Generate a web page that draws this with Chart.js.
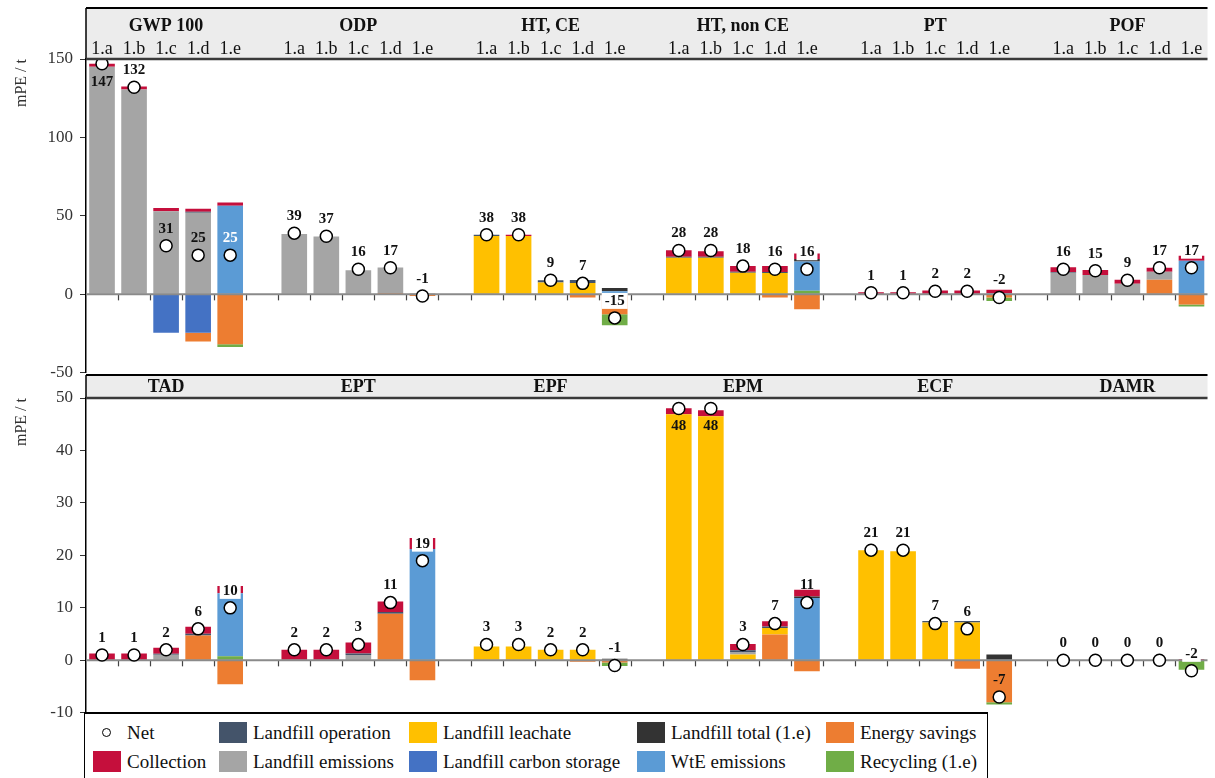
<!DOCTYPE html>
<html>
<head>
<meta charset="utf-8">
<script src="https://cdn.jsdelivr.net/npm/chart.js@4.4.1/dist/chart.umd.min.js"></script>
<style>
  body { margin: 0; background: #fff; }
  #wrap { position: relative; width: 1215px; height: 778px; overflow: hidden;
          font-family: "Liberation Serif", "Times New Roman", serif; }
  canvas { position: absolute; left: 0; }
  #cTop { top: 0; }
  #cBot { top: 360px; }
  #legendBox { position: absolute; left: 84px; top: 712px; width: 902px; height: 80px;
               border-top: 2px solid #000; border-left: 1.5px solid #000; border-right: 1.5px solid #000;
               background: #fff; }
  .li { position: absolute; display: flex; align-items: center; height: 21px;
        font-size: 19px; color: #111; white-space: nowrap; }
  .sw { display: inline-block; width: 28px; height: 21px; margin-right: 6px; }
  .dot { display: inline-block; width: 28px; height: 21px; margin-right: 6px; position: relative; }
  .dot:after { content: ""; position: absolute; left: 9px; top: 6px; width: 7px; height: 7px;
               border: 1.3px solid #000; border-radius: 50%; background: #fff; }
</style>
</head>
<body>
<div id="wrap">
  <canvas id="cTop" width="1215" height="390"></canvas>
  <canvas id="cBot" width="1215" height="370"></canvas>
  <div id="legendBox"></div>
</div>
<script>
// groups of 5 scenarios each
const scenarios = ["1.a", "1.b", "1.c", "1.d", "1.e"];
const topGroups = ["GWP 100", "ODP", "HT, CE", "HT, non CE", "PT", "POF"];
const botGroups = ["TAD", "EPT", "EPF", "EPM", "ECF", "DAMR"];

// top panel (mPE / t), 5 values per group
const topCarbonStorage = [0, 0, -24.5, -24.5, 0,  0, 0, 0, 0, 0,  0, 0, 0, 0, 0,  0, 0, 0, 0, 0,  0, 0, 0, 0, 0,  0, 0, 0, 0, 0];
const topEnergySavings = [0, 0, 0, -5.5, -31.8,  0, 0, 0, 0.8, -1.1,  0, 0, 0, -2, -12.7,  0, 0, 0, -2, -9.5,  0, 0, 0, 0, -2,  0, 0, 0, 9.3, -6.4];
const topRecycling     = [0, 0, 0, 0, -1.7,  0, 0, 0, 0, 0,  0, 0, 0, 0, -7,  0, 0, 0, 0, 2.3,  0, 0, 0, 0, -2.3,  0, 0, 0, 0, -1.3];
const topLeachate      = [0, 0, 0, 0, 0,  0, 0, 0, 0, 0,  37.2, 37.2, 7.5, 7.3, 0,  23.3, 23.3, 13.8, 13.6, 0,  0, 0, 0, 0, 0,  0, 0, 0, 0, 0];
const topEmissions     = [145, 130.5, 53, 52, 0,  38.5, 36.9, 15.3, 16.3, 0,  0, 0, 0, 0, 0,  0, 0, 0, 0, 0,  0, 0, 0, 0, 0,  13.8, 12.3, 6.8, 5.1, 0];
const topWtE           = [0, 0, 0, 0, 56.5,  0, 0, 0, 0, 0,  0, 0, 0, 0, 2,  0, 0, 0, 0, 18.6,  0, 0, 0, 0, 0.7,  0, 0, 0, 0, 21.4];
const topLandfillTotal = [0, 0, 0, 0, 0,  0, 0, 0, 0, 0.3,  0, 0, 0, 0, 2,  0, 0, 0, 0, 1.7,  0, 0, 0, 0, 0,  0, 0, 0, 0, 0];
const topOperation     = [0, 0, 0, 0.6, 0,  0, 0, 0, 0, 0,  0.8, 0, 1.5, 1.9, 0,  0.6, 0.6, 0.6, 0.6, 0,  0, 0, 0, 0, 0,  0.4, 0, 0, 0, 0];
const topCollection    = [2, 2, 2, 2, 2,  0, 0, 0, 0, 0,  0, 0.8, 0, 0, 0,  4.2, 3.6, 3.6, 3.8, 3.5,  1.4, 1.4, 2.4, 2.4, 2.3,  3, 3.2, 2.5, 2.5, 3.2];
const topNet           = [147, 132, 31, 25, 25,  39, 37, 16, 17, -1,  38, 38, 9, 7, -15,  28, 28, 18, 16, 16,  1, 1, 2, 2, -2,  16, 15, 9, 17, 17];

// bottom panel
const botCarbonStorage = [0, 0, 0, 0, 0,  0, 0, 0, 0, 0,  0, 0, 0, 0, 0,  0, 0, 0, 0, 0,  0, 0, 0, 0, 0,  0, 0, 0, 0, 0];
const botEnergySavings = [0, 0, 0, 4.75, -4.55,  0, 0, 0, 8.9, -3.8,  0, 0, 0, -0.25, -0.4,  0, 0, 0, 4.9, -2.1,  0, 0, 0, -1.6, -8,  0, 0, 0, 0, 0];
const botRecycling     = [0, 0, 0, 0, 0.8,  0, 0, 0, 0, 0,  0, 0, 0, 0, -0.7,  0, 0, 0, 0, 0,  0, 0, 0, 0, -0.4,  0, 0, 0, 0, -1.8];
const botLeachate      = [0, 0, 0, 0, 0,  0, 0, 0, 0, 0,  2.65, 2.65, 2, 2, 0,  46.9, 46.5, 1.1, 1.25, 0,  21, 20.8, 7.2, 7.2, 0,  0, 0, 0, 0, 0];
const botEmissions     = [0, 0, 1.05, 0, 0,  0, 0, 1, 0, 0,  0, 0, 0, 0, 0,  0, 0, 0.5, 0, 0,  0, 0, 0, 0, 0,  0, 0, 0, 0, 0];
const botWtE           = [0, 0, 0, 0, 12,  0, 0, 0, 0, 21.2,  0, 0, 0, 0, 0,  0, 0, 0, 0, 11.9,  0, 0, 0, 0, 0,  0, 0, 0, 0, 0];
const botLandfillTotal = [0, 0, 0, 0, 0,  0, 0, 0, 0, 0,  0, 0, 0, 0, 0.3,  0, 0, 0, 0, 0.25,  0, 0, 0, 0, 1.1,  0, 0, 0, 0, 0];
const botOperation     = [0, 0, 0.2, 0.3, 0,  0, 0, 0.3, 0.3, 0,  0, 0, 0, 0, 0,  0, 0, 0.3, 0.3, 0,  0, 0, 0.3, 0.3, 0,  0, 0, 0, 0, 0];
const botCollection    = [1.3, 1.3, 1.15, 1.35, 1.35,  2, 2, 2.1, 2, 2.1,  0, 0, 0, 0, 0,  1.15, 1.15, 1.2, 1, 1.3,  0, 0, 0, 0, 0,  0, 0, 0, 0, 0.25];
const botNet           = [1, 1, 2, 6, 10,  2, 2, 3, 11, 19,  3, 3, 2, 2, -1,  48, 48, 3, 7, 11,  21, 21, 7, 6, -7,  0, 0, 0, 0, -2];

// stacking order (bottom-up), legend name, colour
const parts = [
  ["Landfill carbon storage", "#4472C4", topCarbonStorage, botCarbonStorage],
  ["Energy savings", "#ED7D31", topEnergySavings, botEnergySavings],
  ["Recycling (1.e)", "#70AD47", topRecycling, botRecycling],
  ["Landfill leachate", "#FFC000", topLeachate, botLeachate],
  ["Landfill emissions", "#A5A5A5", topEmissions, botEmissions],
  ["WtE emissions", "#5B9BD5", topWtE, botWtE],
  ["Landfill total (1.e)", "#333333", topLandfillTotal, botLandfillTotal],
  ["Landfill operation", "#44546A", topOperation, botOperation],
  ["Collection", "#C50F3C", topCollection, botCollection]
];

const FONT = '"Liberation Serif", "Times New Roman", serif';

// 6 groups of 5 bars, one empty slot between groups
function toSlots(arr) {
  const out = [];
  for (let g = 0; g < 6; g++) {
    if (g > 0) out.push(null);
    for (let k = 0; k < 5; k++) out.push(arr[g * 5 + k]);
  }
  return out;
}
const slotLabels = toSlots(Array.from({ length: 30 }, (_, i) => scenarios[i % 5])).map(v => v || "");

const headerPlugin = {
  id: "header",
  afterDraw(chart, args, o) {
    const { ctx, chartArea: a, scales: { x } } = chart;
    ctx.save();
    ctx.fillStyle = "#ececec";
    ctx.fillRect(a.left, o.top, a.right - a.left, a.top - o.top);
    ctx.strokeStyle = "#000";
    ctx.lineWidth = 2;
    ctx.beginPath(); ctx.moveTo(a.left, o.top); ctx.lineTo(a.right, o.top); ctx.stroke();
    ctx.lineWidth = 1.5;
    ctx.beginPath(); ctx.moveTo(a.left, o.top); ctx.lineTo(a.left, a.top); ctx.stroke();
    ctx.strokeStyle = "#3a3a3a";
    ctx.lineWidth = 2.5;
    ctx.beginPath(); ctx.moveTo(a.left, a.top); ctx.lineTo(a.right, a.top); ctx.stroke();
    ctx.fillStyle = "#111";
    ctx.textAlign = "center";
    ctx.textBaseline = "middle";
    o.groups.forEach((name, g) => {
      ctx.font = "bold 18px " + FONT;
      ctx.fillText(name, x.getPixelForValue(g * 6 + 2), o.titleY);
      if (o.subY) {
        ctx.font = "18px " + FONT;
        scenarios.forEach((s, k) => ctx.fillText(s, x.getPixelForValue(g * 6 + k), o.subY));
      }
    });
    ctx.restore();
  }
};

const axisMarks = {
  id: "axisMarks",
  beforeDatasetDraw(chart, args) {
    if (args.meta.type !== "line") return;
    const { ctx, chartArea: a, scales: { x, y } } = chart;
    const y0 = y.getPixelForValue(0);
    const w = x.getPixelForValue(1) - x.getPixelForValue(0);
    ctx.save();
    ctx.strokeStyle = "#444";
    ctx.lineWidth = 1.2;
    for (let i = 1; i < chart.data.labels.length; i++) {
      const xx = Math.round(x.getPixelForValue(i) - w / 2) + 0.5;
      ctx.beginPath(); ctx.moveTo(xx, y0); ctx.lineTo(xx, y0 + 6); ctx.stroke();
    }
    ctx.strokeStyle = "#8a8a8a";
    ctx.lineWidth = 2;
    ctx.beginPath(); ctx.moveTo(a.left, y0); ctx.lineTo(a.right, y0); ctx.stroke();
    ctx.restore();
  }
};

const netLabels = {
  id: "netLabels",
  afterDatasetsDraw(chart, args, o) {
    const { ctx, chartArea: a } = chart;
    const idx = chart.data.datasets.length - 1;
    const meta = chart.getDatasetMeta(idx);
    const data = chart.data.datasets[idx].data;
    ctx.save();
    ctx.font = "bold 15px " + FONT;
    ctx.textAlign = "center";
    ctx.textBaseline = "middle";
    meta.data.forEach((pt, i) => {
      const v = data[i];
      if (v === null || v === undefined) return;
      let ty = pt.y - 17;
      if (ty - 8 < a.top) ty = pt.y + 18;
      const txt = String(v);
      if (o.boxed.includes(i)) {
        const tw = ctx.measureText(txt).width + 6;
        ctx.fillStyle = "#fff";
        ctx.fillRect(pt.x - tw / 2, ty - 8, tw, 16);
      }
      ctx.fillStyle = o.white.includes(i) ? "#fff" : "#111";
      ctx.fillText(txt, pt.x, ty);
    });
    ctx.restore();
  }
};

function makeChart(id, panel, net, yMin, yMax, step, header, labelOpts, pad) {
  const datasets = parts.map(p => ({
    label: p[0],
    data: toSlots(p[panel]),
    backgroundColor: p[1],
    borderWidth: 0,
    stack: "s",
    order: 1,
    categoryPercentage: 1,
    barPercentage: 0.8
  }));
  datasets.push({
    type: "line",
    label: "Net",
    data: toSlots(net),
    showLine: false,
    stack: "net",
    order: 0,
    pointRadius: 6,
    pointBackgroundColor: "#fff",
    pointBorderColor: "#000",
    pointBorderWidth: 1.5
  });
  return new Chart(document.getElementById(id), {
    type: "bar",
    data: { labels: slotLabels, datasets },
    options: {
      responsive: false,
      devicePixelRatio: 1,
      animation: false,
      layout: { padding: pad },
      plugins: {
        legend: { display: false },
        tooltip: { enabled: false },
        header,
        netLabels: labelOpts
      },
      scales: {
        x: { stacked: true, display: false, offset: true },
        y: {
          stacked: true,
          min: yMin,
          max: yMax,
          afterFit(s) { s.width = 86; },
          ticks: { stepSize: step, color: "#333", font: { family: FONT, size: 17 }, padding: 7 },
          grid: { drawOnChartArea: false, drawTicks: true, tickLength: 6, color: "#333" },
          border: { display: true, color: "#000", width: 1.5 },
          title: {
            display: true, text: "mPE / t", align: "end", color: "#333",
            font: { family: FONT, size: 16 }, padding: { top: 12, bottom: 0 }
          }
        }
      }
    },
    plugins: [headerPlugin, axisMarks, netLabels]
  });
}

makeChart("cTop", 2, topNet, -50, 150, 50,
  { groups: topGroups, top: 8, titleY: 26, subY: 49 },
  { boxed: [16, 22, 34], white: [4] },
  { top: 59, bottom: 15, left: 0, right: 0 });

makeChart("cBot", 3, botNet, -10, 50, 10,
  { groups: botGroups, top: 15, titleY: 27.5, subY: null },
  { boxed: [4, 10, 34], white: [] },
  { top: 38, bottom: 16, left: 0, right: 0 });

// legend, laid out in 5 columns x 2 rows as in the figure
const legendCols = [
  ["Net", "Collection"],
  ["Landfill operation", "Landfill emissions"],
  ["Landfill leachate", "Landfill carbon storage"],
  ["Landfill total (1.e)", "WtE emissions"],
  ["Energy savings", "Recycling (1.e)"]
];
const colX = [93, 219, 409, 637, 826];
const rowY = [722, 751];
const wrap = document.getElementById("wrap");
legendCols.forEach((col, c) => {
  col.forEach((name, r) => {
    const d = document.createElement("div");
    d.className = "li";
    d.style.left = colX[c] + "px";
    d.style.top = rowY[r] + "px";
    const sw = document.createElement("span");
    if (name === "Net") {
      sw.className = "dot";
    } else {
      sw.className = "sw";
      sw.style.background = parts.find(p => p[0] === name)[1];
    }
    d.appendChild(sw);
    d.appendChild(document.createTextNode(name));
    wrap.appendChild(d);
  });
});
</script>
</body>
</html>
